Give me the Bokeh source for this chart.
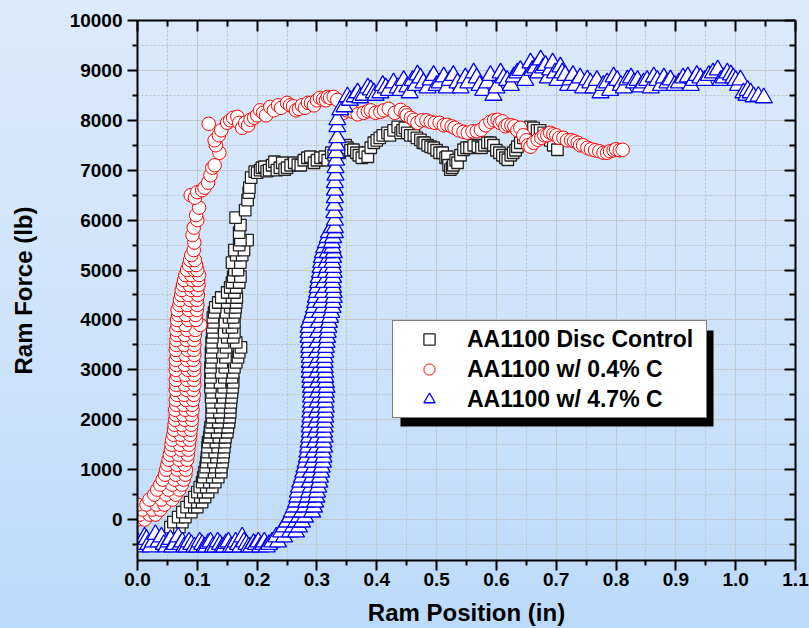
from bokeh.plotting import figure
from bokeh.models import (Range1d, FixedTicker, LinearAxis, Legend, LegendItem,
                          NumeralTickFormatter, BoxAnnotation, CustomLabelingPolicy)
from bokeh.embed import file_html
from bokeh.resources import INLINE

# ---------------- data ----------------
series_names = ["AA1100 Disc Control", "AA1100 w/ 0.4% C", "AA1100 w/ 4.7% C"]

# AA1100 Disc Control: (position in, force lb)
ctrl_pts = [
    (0.062, -200), (0.055, -150), (0.07, -150), (0.06, -50), (0.075, -50), (0.068, 50), (0.08, 50),
    (0.075, 150), (0.09, 150), (0.082, 250), (0.095, 250), (0.1, 250), (0.088, 350), (0.1, 350),
    (0.108, 350), (0.095, 450), (0.105, 450), (0.113, 450), (0.1, 550), (0.11, 550), (0.118, 550),
    (0.104, 650), (0.115, 650), (0.125, 650), (0.108, 750), (0.12, 750), (0.13, 750),
    (0.11, 850), (0.125, 850), (0.135, 850), (0.112, 950), (0.128, 950), (0.14, 950),
    (0.114, 1050), (0.13, 1050), (0.14, 1050), (0.115, 1150), (0.127, 1150), (0.142, 1150),
    (0.116, 1250), (0.132, 1250), (0.143, 1250), (0.117, 1350), (0.129, 1350), (0.144, 1350),
    (0.117, 1450), (0.134, 1450), (0.145, 1450), (0.118, 1550), (0.131, 1550), (0.146, 1550),
    (0.12, 1650), (0.136, 1650), (0.147, 1650), (0.121, 1750), (0.133, 1750), (0.15, 1750),
    (0.122, 1850), (0.138, 1850), (0.151, 1850), (0.124, 1950), (0.135, 1950), (0.153, 1950),
    (0.125, 2050), (0.14, 2050), (0.154, 2050), (0.124, 2150), (0.137, 2150), (0.155, 2150),
    (0.125, 2250), (0.142, 2250), (0.155, 2250), (0.124, 2350), (0.139, 2350), (0.156, 2350),
    (0.123, 2450), (0.143, 2450), (0.157, 2450), (0.124, 2550), (0.14, 2550), (0.158, 2550),
    (0.122, 2650), (0.144, 2650), (0.159, 2650), (0.123, 2750), (0.138, 2750), (0.16, 2750),
    (0.122, 2850), (0.145, 2850), (0.158, 2850), (0.123, 2950), (0.14, 2950), (0.16, 2950),
    (0.122, 3050), (0.146, 3050), (0.162, 3050), (0.123, 3150), (0.141, 3150), (0.165, 3150),
    (0.124, 3250), (0.147, 3250), (0.168, 3250), (0.123, 3350), (0.142, 3350), (0.17, 3350),
    (0.125, 3450), (0.148, 3450), (0.173, 3450), (0.124, 3550), (0.143, 3550), (0.165, 3550),
    (0.125, 3650), (0.15, 3650), (0.16, 3650), (0.126, 3750), (0.145, 3750), (0.162, 3750),
    (0.125, 3850), (0.152, 3850), (0.158, 3850), (0.127, 3950), (0.146, 3950), (0.162, 3950),
    (0.126, 4050), (0.153, 4050), (0.16, 4050), (0.128, 4150), (0.148, 4150), (0.163, 4150),
    (0.13, 4250), (0.155, 4250), (0.164, 4250), (0.135, 4350), (0.15, 4350), (0.165, 4350),
    (0.14, 4450), (0.158, 4450), (0.166, 4450), (0.15, 4550), (0.162, 4550), (0.155, 4650),
    (0.165, 4650), (0.158, 4750), (0.17, 4750), (0.16, 4870), (0.172, 4870), (0.162, 5000),
    (0.168, 5000), (0.158, 5150), (0.172, 5150), (0.165, 5300), (0.175, 5300), (0.162, 5400),
    (0.178, 5400), (0.17, 5500), (0.184, 5600), (0.172, 5600), (0.17, 5750), (0.172, 5900),
    (0.164, 6050), (0.18, 6200), (0.184, 6400), (0.186, 6550), (0.187, 6650), (0.19, 6850),
    (0.196, 6970), (0.2, 6950), (0.205, 7000), (0.208, 7050), (0.212, 7070), (0.216, 6980),
    (0.22, 7000), (0.225, 7100), (0.229, 7170), (0.233, 7000), (0.238, 7050), (0.242, 7150),
    (0.246, 7010), (0.25, 7050), (0.256, 7100), (0.262, 7150), (0.268, 7110), (0.273, 7100),
    (0.278, 7200), (0.284, 7250), (0.289, 7270), (0.295, 7150), (0.3, 7200), (0.306, 7250),
    (0.313, 7270), (0.318, 7200), (0.324, 7350), (0.328, 7300), (0.334, 7410), (0.338, 7350),
    (0.344, 7470), (0.348, 7500), (0.351, 7450), (0.356, 7400), (0.361, 7410), (0.366, 7350),
    (0.37, 7300), (0.375, 7250), (0.38, 7350), (0.385, 7270), (0.39, 7450), (0.395, 7550),
    (0.4, 7600), (0.405, 7650), (0.41, 7700), (0.418, 7750), (0.422, 7700), (0.428, 7800),
    (0.435, 7870), (0.44, 7750), (0.443, 7800), (0.447, 7850), (0.451, 7750), (0.456, 7700),
    (0.462, 7700), (0.467, 7650), (0.473, 7610), (0.477, 7550), (0.48, 7550), (0.485, 7500),
    (0.49, 7470), (0.495, 7450), (0.5, 7400), (0.505, 7350), (0.51, 7350), (0.515, 7250),
    (0.518, 7270), (0.52, 7100), (0.523, 7010), (0.526, 7050), (0.528, 7100), (0.532, 7200),
    (0.535, 7150), (0.54, 7300), (0.545, 7410), (0.55, 7450), (0.555, 7450), (0.562, 7500),
    (0.569, 7470), (0.575, 7450), (0.58, 7500), (0.585, 7550), (0.59, 7550), (0.595, 7500),
    (0.6, 7400), (0.605, 7350), (0.61, 7300), (0.615, 7250), (0.619, 7210), (0.624, 7300),
    (0.628, 7350), (0.632, 7400), (0.635, 7470), (0.64, 7550), (0.645, 7650), (0.65, 7750),
    (0.657, 7870), (0.662, 7850), (0.668, 7800), (0.673, 7800), (0.679, 7750), (0.685, 7700),
    (0.69, 7600), (0.695, 7500), (0.702, 7410),
]

# AA1100 w/ 0.4% C
c04_pts = [
    (0.0, 0), (0.012, 0), (0.004, 100), (0.02, 100), (0.03, 100), (0.008, 200), (0.025, 200),
    (0.038, 200), (0.0, 300), (0.015, 300), (0.032, 300), (0.045, 300), (0.02, 400), (0.04, 400),
    (0.058, 400), (0.028, 500), (0.048, 500), (0.064, 500), (0.033, 600), (0.052, 600),
    (0.07, 600), (0.038, 700), (0.058, 700), (0.074, 700), (0.042, 800), (0.062, 800),
    (0.077, 800), (0.046, 900), (0.064, 900), (0.08, 900), (0.048, 1000), (0.067, 1000),
    (0.081, 1000), (0.05, 1100), (0.066, 1100), (0.079, 1100), (0.052, 1200), (0.07, 1200),
    (0.083, 1200), (0.054, 1300), (0.068, 1300), (0.084, 1300), (0.056, 1400), (0.073, 1400),
    (0.085, 1400), (0.057, 1500), (0.071, 1500), (0.086, 1500), (0.058, 1600), (0.075, 1600),
    (0.087, 1600), (0.06, 1700), (0.072, 1700), (0.088, 1700), (0.061, 1800), (0.077, 1800),
    (0.089, 1800), (0.062, 1900), (0.074, 1900), (0.09, 1900), (0.063, 2000), (0.079, 2000),
    (0.091, 2000), (0.064, 2100), (0.076, 2100), (0.09, 2100), (0.063, 2200), (0.08, 2200),
    (0.092, 2200), (0.065, 2300), (0.077, 2300), (0.091, 2300), (0.064, 2400), (0.081, 2400),
    (0.093, 2400), (0.066, 2500), (0.078, 2500), (0.094, 2500), (0.064, 2600), (0.082, 2600),
    (0.093, 2600), (0.065, 2700), (0.079, 2700), (0.095, 2700), (0.064, 2800), (0.083, 2800),
    (0.094, 2800), (0.066, 2900), (0.08, 2900), (0.095, 2900), (0.064, 3000), (0.084, 3000),
    (0.094, 3000), (0.065, 3100), (0.079, 3100), (0.095, 3100), (0.064, 3200), (0.083, 3200),
    (0.093, 3200), (0.066, 3300), (0.08, 3300), (0.095, 3300), (0.064, 3400), (0.084, 3400),
    (0.094, 3400), (0.065, 3500), (0.078, 3500), (0.095, 3500), (0.065, 3600), (0.082, 3600),
    (0.094, 3600), (0.066, 3700), (0.079, 3700), (0.096, 3700), (0.065, 3800), (0.083, 3800),
    (0.097, 3800), (0.067, 3900), (0.08, 3900), (0.105, 3900), (0.066, 4000), (0.085, 4000),
    (0.098, 4000), (0.068, 4100), (0.081, 4100), (0.097, 4100), (0.067, 4200), (0.086, 4200),
    (0.099, 4200), (0.07, 4300), (0.083, 4300), (0.1, 4300), (0.071, 4400), (0.088, 4400),
    (0.099, 4400), (0.073, 4500), (0.085, 4500), (0.101, 4500), (0.074, 4600), (0.09, 4600),
    (0.1, 4600), (0.076, 4700), (0.087, 4700), (0.102, 4700), (0.078, 4800), (0.092, 4800),
    (0.101, 4800), (0.08, 4900), (0.09, 4900), (0.103, 4900), (0.083, 5000), (0.095, 5000),
    (0.1, 5000), (0.086, 5100), (0.098, 5100), (0.088, 5200), (0.096, 5200), (0.09, 5300),
    (0.094, 5400), (0.095, 5550), (0.092, 5700), (0.094, 5850), (0.1, 6000), (0.098, 6100),
    (0.103, 6250), (0.089, 6500), (0.096, 6450), (0.1, 6560), (0.108, 6600), (0.112, 6650),
    (0.118, 6750), (0.122, 6900), (0.125, 7050), (0.129, 7100), (0.137, 7350), (0.131, 7500),
    (0.129, 7600), (0.136, 7700), (0.14, 7800), (0.119, 7930), (0.15, 7950), (0.155, 8000),
    (0.16, 8050), (0.167, 8070), (0.17, 7950), (0.175, 7850), (0.18, 7950), (0.185, 7900),
    (0.189, 8010), (0.195, 8050), (0.2, 8100), (0.205, 8200), (0.21, 8150), (0.215, 8100),
    (0.222, 8270), (0.228, 8200), (0.235, 8300), (0.24, 8250), (0.25, 8350), (0.255, 8300),
    (0.26, 8280), (0.265, 8200), (0.27, 8230), (0.275, 8300), (0.28, 8250), (0.285, 8350),
    (0.29, 8350), (0.295, 8300), (0.3, 8400), (0.305, 8450), (0.31, 8420), (0.315, 8400),
    (0.318, 8470), (0.322, 8450), (0.328, 8470), (0.334, 8410), (0.344, 8150), (0.35, 8200),
    (0.36, 8170), (0.368, 8120), (0.378, 8150), (0.385, 8180), (0.39, 8200), (0.398, 8150),
    (0.406, 8170), (0.412, 8200), (0.42, 8230), (0.43, 8150), (0.44, 8210), (0.448, 8150),
    (0.45, 8100), (0.457, 8050), (0.462, 8010), (0.468, 7950), (0.475, 8000), (0.483, 8000),
    (0.49, 7970), (0.497, 7950), (0.505, 7950), (0.512, 7900), (0.518, 7910), (0.525, 7880),
    (0.53, 7850), (0.537, 7800), (0.545, 7770), (0.552, 7750), (0.56, 7780), (0.567, 7780),
    (0.574, 7810), (0.582, 7900), (0.59, 7970), (0.596, 8000), (0.602, 8010), (0.606, 7950),
    (0.61, 7980), (0.615, 7880), (0.619, 7910), (0.625, 7900), (0.63, 7880), (0.635, 7800),
    (0.64, 7850), (0.645, 7700), (0.65, 7600), (0.653, 7500), (0.657, 7470), (0.662, 7550),
    (0.669, 7610), (0.675, 7650), (0.68, 7700), (0.685, 7700), (0.69, 7750), (0.695, 7720),
    (0.7, 7700), (0.705, 7650), (0.712, 7650), (0.718, 7600), (0.725, 7600), (0.73, 7580),
    (0.736, 7550), (0.74, 7500), (0.745, 7500), (0.752, 7450), (0.758, 7420), (0.765, 7400),
    (0.772, 7380), (0.779, 7350), (0.785, 7350), (0.79, 7380), (0.796, 7400), (0.8, 7420),
    (0.806, 7400), (0.811, 7410),
]

# AA1100 w/ 4.7% C
c47_pts = [
    (0.0, -450), (0.005, -550), (0.008, -500), (0.012, -350), (0.015, -400), (0.018, -500),
    (0.022, -550), (0.026, -450), (0.03, -300), (0.035, -450), (0.04, -350), (0.044, -500),
    (0.048, -550), (0.052, -450), (0.055, -400), (0.058, -550), (0.062, -500), (0.068, -350),
    (0.072, -500), (0.075, -450), (0.078, -550), (0.082, -550), (0.086, -450), (0.09, -500),
    (0.095, -550), (0.1, -550), (0.104, -450), (0.108, -500), (0.112, -550), (0.115, -550),
    (0.118, -480), (0.122, -450), (0.126, -550), (0.13, -550), (0.134, -450), (0.138, -500),
    (0.142, -550), (0.145, -550), (0.148, -480), (0.152, -450), (0.156, -550), (0.16, -550),
    (0.164, -450), (0.168, -500), (0.172, -550), (0.175, -350), (0.178, -450), (0.182, -500),
    (0.186, -550), (0.19, -550), (0.194, -480), (0.198, -500), (0.202, -450), (0.205, -550),
    (0.21, -500), (0.212, -450), (0.216, -550), (0.22, -500), (0.225, -450), (0.235, -450),
    (0.232, -350), (0.245, -350), (0.24, -250), (0.255, -250), (0.265, -250), (0.245, -150),
    (0.26, -150), (0.27, -150), (0.25, -50), (0.265, -50), (0.275, -50), (0.255, 50), (0.27, 50),
    (0.28, 50), (0.258, 150), (0.275, 150), (0.292, 150), (0.262, 250), (0.28, 250),
    (0.295, 250), (0.265, 350), (0.282, 350), (0.297, 350), (0.267, 450), (0.285, 450),
    (0.299, 450), (0.268, 550), (0.287, 550), (0.3, 550), (0.27, 650), (0.29, 650),
    (0.302, 650), (0.272, 750), (0.288, 750), (0.304, 750), (0.275, 850), (0.292, 850),
    (0.305, 850), (0.277, 950), (0.29, 950), (0.307, 950), (0.279, 1050), (0.295, 1050),
    (0.308, 1050), (0.281, 1150), (0.293, 1150), (0.31, 1150), (0.283, 1250), (0.297, 1250),
    (0.311, 1250), (0.284, 1350), (0.295, 1350), (0.31, 1350), (0.285, 1450), (0.3, 1450),
    (0.312, 1450), (0.286, 1550), (0.297, 1550), (0.311, 1550), (0.287, 1650), (0.301, 1650),
    (0.313, 1650), (0.288, 1750), (0.298, 1750), (0.312, 1750), (0.288, 1850), (0.302, 1850),
    (0.313, 1850), (0.288, 1950), (0.299, 1950), (0.313, 1950), (0.289, 2050), (0.303, 2050),
    (0.314, 2050), (0.289, 2150), (0.3, 2150), (0.314, 2150), (0.29, 2250), (0.304, 2250),
    (0.315, 2250), (0.29, 2350), (0.301, 2350), (0.314, 2350), (0.29, 2450), (0.305, 2450),
    (0.315, 2450), (0.29, 2550), (0.302, 2550), (0.315, 2550), (0.29, 2650), (0.306, 2650),
    (0.316, 2650), (0.289, 2750), (0.302, 2750), (0.315, 2750), (0.289, 2850), (0.306, 2850),
    (0.314, 2850), (0.288, 2950), (0.301, 2950), (0.314, 2950), (0.288, 3050), (0.305, 3050),
    (0.313, 3050), (0.288, 3150), (0.3, 3150), (0.313, 3150), (0.288, 3250), (0.304, 3250),
    (0.313, 3250), (0.287, 3350), (0.3, 3350), (0.314, 3350), (0.287, 3450), (0.305, 3450),
    (0.315, 3450), (0.287, 3550), (0.301, 3550), (0.316, 3550), (0.286, 3650), (0.306, 3650),
    (0.317, 3650), (0.286, 3750), (0.302, 3750), (0.318, 3750), (0.286, 3850), (0.307, 3850),
    (0.319, 3850), (0.287, 3950), (0.303, 3950), (0.32, 3950), (0.29, 4050), (0.308, 4050),
    (0.322, 4050), (0.293, 4150), (0.305, 4150), (0.324, 4150), (0.295, 4250), (0.31, 4250),
    (0.326, 4250), (0.297, 4350), (0.307, 4350), (0.327, 4350), (0.298, 4450), (0.312, 4450),
    (0.328, 4450), (0.3, 4550), (0.31, 4550), (0.328, 4550), (0.301, 4650), (0.315, 4650),
    (0.327, 4650), (0.302, 4750), (0.312, 4750), (0.326, 4750), (0.303, 4850), (0.317, 4850),
    (0.327, 4850), (0.305, 4950), (0.315, 4950), (0.328, 4950), (0.306, 5050), (0.318, 5050),
    (0.327, 5050), (0.307, 5150), (0.316, 5150), (0.326, 5150), (0.308, 5250), (0.32, 5250),
    (0.327, 5250), (0.31, 5350), (0.318, 5350), (0.328, 5350), (0.312, 5450), (0.322, 5450),
    (0.326, 5450), (0.315, 5550), (0.325, 5550), (0.318, 5650), (0.327, 5650), (0.32, 5750),
    (0.33, 5750), (0.325, 5850), (0.33, 5850), (0.33, 6000), (0.329, 6150), (0.329, 6300),
    (0.33, 6450), (0.33, 6600), (0.33, 6750), (0.331, 6900), (0.331, 7050), (0.332, 7200),
    (0.332, 7350), (0.333, 7500), (0.334, 7650), (0.334, 7870), (0.334, 8010), (0.339, 8210),
    (0.346, 8270), (0.351, 8470), (0.355, 8400), (0.363, 8470), (0.368, 8550), (0.372, 8450),
    (0.378, 8500), (0.385, 8650), (0.39, 8610), (0.395, 8550), (0.398, 8500), (0.406, 8550),
    (0.41, 8700), (0.415, 8650), (0.42, 8600), (0.428, 8750), (0.435, 8650), (0.44, 8600),
    (0.445, 8800), (0.451, 8670), (0.455, 8550), (0.46, 8800), (0.465, 8700), (0.468, 8910),
    (0.473, 8850), (0.478, 8750), (0.485, 8650), (0.49, 8810), (0.495, 8900), (0.5, 8700),
    (0.505, 8750), (0.512, 8870), (0.517, 8650), (0.522, 8800), (0.528, 8900), (0.535, 8750),
    (0.54, 8650), (0.548, 8850), (0.553, 8750), (0.562, 8950), (0.567, 8850), (0.572, 8700),
    (0.578, 8600), (0.585, 8750), (0.59, 8900), (0.595, 8500), (0.6, 8650), (0.607, 8950),
    (0.612, 8850), (0.618, 8800), (0.624, 8700), (0.629, 8870), (0.635, 8950), (0.64, 9000),
    (0.648, 8800), (0.657, 9150), (0.66, 9000), (0.665, 9050), (0.67, 8950), (0.674, 9210),
    (0.678, 9050), (0.682, 9100), (0.686, 8850), (0.69, 9010), (0.694, 9150), (0.698, 8950),
    (0.702, 8800), (0.707, 9070), (0.71, 8950), (0.715, 8900), (0.72, 8700), (0.724, 8810),
    (0.728, 8900), (0.732, 8700), (0.74, 8850), (0.745, 8650), (0.752, 8810), (0.757, 8750),
    (0.762, 8650), (0.768, 8800), (0.774, 8550), (0.779, 8700), (0.785, 8750), (0.79, 8600),
    (0.796, 8870), (0.802, 8800), (0.808, 8700), (0.813, 8650), (0.819, 8810), (0.825, 8850),
    (0.83, 8750), (0.836, 8800), (0.841, 8670), (0.846, 8750), (0.852, 8800), (0.858, 8650),
    (0.863, 8870), (0.869, 8800), (0.875, 8700), (0.88, 8850), (0.886, 8750), (0.891, 8810),
    (0.898, 8700), (0.905, 8750), (0.912, 8850), (0.92, 8870), (0.925, 8700), (0.93, 8800),
    (0.935, 8900), (0.941, 8850), (0.948, 8800), (0.955, 8900), (0.962, 8950), (0.97, 9010),
    (0.975, 8800), (0.98, 8850), (0.986, 8950), (0.992, 8910), (0.996, 8850), (1.0, 8800),
    (1.004, 8700), (1.008, 8810), (1.013, 8550), (1.018, 8500), (1.02, 8600), (1.025, 8550),
    (1.03, 8470), (1.038, 8480), (1.047, 8450),
]

ctrl_x = [p[0] for p in ctrl_pts]
ctrl_y = [p[1] for p in ctrl_pts]
c04_x = [p[0] for p in c04_pts]
c04_y = [p[1] for p in c04_pts]
c47_x = [p[0] for p in c47_pts]
c47_y = [p[1] for p in c47_pts]

x_ticks = [0.0, 0.1, 0.2, 0.3, 0.4, 0.5, 0.6, 0.7, 0.8, 0.9, 1.0, 1.1]
x_minor = [0.05, 0.15, 0.25, 0.35, 0.45, 0.55, 0.65, 0.75, 0.85, 0.95, 1.05]
y_ticks = [0, 1000, 2000, 3000, 4000, 5000, 6000, 7000, 8000, 9000, 10000]
y_minor = [-500, 500, 1500, 2500, 3500, 4500, 5500, 6500, 7500, 8500, 9500]

FONT = "Liberation Sans"

p = figure(width=809, height=628, output_backend="svg", toolbar_location=None,
           x_range=Range1d(0, 1.1), y_range=Range1d(-820, 10000),
           min_border_left=137, min_border_right=14, min_border_top=20,
           min_border_bottom=66, x_axis_location=None, y_axis_location=None)
p.border_fill_color = None
p.background_fill_color = None
p.outline_line_color = None
p.styles = {"background": "linear-gradient(to bottom, #dbeafc 0%, #cfe4fb 50%, #bcdaf9 100%)"}

xticker = FixedTicker(ticks=x_ticks, minor_ticks=x_minor)
yticker = FixedTicker(ticks=y_ticks, minor_ticks=y_minor)

hide_labels = CustomLabelingPolicy(
    code="for (let i = 0; i < indices.size; i++) { indices.unset(i) } return indices")


def style_axis(ax, outward):
    ax.axis_line_width = 2
    ax.axis_line_color = "black"
    ax.major_tick_line_width = 2
    ax.minor_tick_line_width = 2
    ax.major_tick_line_color = "black"
    ax.minor_tick_line_color = "black"
    if outward:
        ax.major_tick_out, ax.major_tick_in = 10, 0
        ax.minor_tick_out, ax.minor_tick_in = 5, 0
        ax.major_label_text_font_size = "19px"
    else:
        ax.major_tick_out, ax.major_tick_in = 0, 11
        ax.minor_tick_out, ax.minor_tick_in = 0, 6
        ax.major_label_text_font_size = "1px"
        ax.major_label_standoff = 0
    ax.major_label_text_font = FONT
    ax.major_label_text_font_style = "bold"
    ax.major_label_text_color = "black"
    ax.axis_label_text_font = FONT
    ax.axis_label_text_font_style = "bold"
    ax.axis_label_text_font_size = "24px"
    ax.axis_label_text_color = "black"


xb = LinearAxis(ticker=xticker, formatter=NumeralTickFormatter(format="0.0"),
                axis_label="Ram Position (in)")
style_axis(xb, True)
xb.major_label_standoff = 2
xb.axis_label_standoff = 10
yl = LinearAxis(ticker=yticker, axis_label="Ram Force (lb)")
style_axis(yl, True)
yl.major_label_standoff = 5
yl.axis_label_standoff = 30
xt = LinearAxis(ticker=xticker, major_label_policy=hide_labels)
style_axis(xt, False)
yr = LinearAxis(ticker=yticker, major_label_policy=hide_labels)
style_axis(yr, False)

p.add_layout(xb, "below")
p.add_layout(yl, "left")
p.add_layout(xt, "above")
p.add_layout(yr, "right")

p.xgrid.ticker = xticker
p.ygrid.ticker = yticker
for g in (p.xgrid, p.ygrid):
    g.grid_line_color = "#c4c9cf"
    g.grid_line_width = 1
    g.minor_grid_line_color = "#b9c0c8"
    g.minor_grid_line_dash = "2 2"
    g.minor_grid_line_width = 1

r_ctrl = p.scatter(ctrl_x, ctrl_y, marker="square", size=11.5, fill_color="white",
                   line_color="#222222", line_width=1.3)
r_c04 = p.scatter(c04_x, c04_y, marker="circle", size=13.5, fill_color="white",
                  line_color="#ff0000", line_width=1)
r_c47 = p.scatter(c47_x, c47_y, marker="triangle", size=17, fill_color="white",
                  line_color="#0000ff", line_width=1.3)

# legend drop shadow (frame-relative screen units), then the legend itself
shadow = BoxAnnotation(left=263, right=576, bottom=134, top=230,
                       left_units="screen", right_units="screen",
                       bottom_units="screen", top_units="screen",
                       fill_color="black", fill_alpha=1.0, line_color=None)
p.add_layout(shadow)

legend = Legend(items=[LegendItem(label=series_names[0], renderers=[r_ctrl]),
                       LegendItem(label=series_names[1], renderers=[r_c04]),
                       LegendItem(label=series_names[2], renderers=[r_c47])],
                location=(255, 142), margin=0, padding=4, spacing=2,
                glyph_width=64, glyph_height=28, label_height=28, label_width=235,
                label_standoff=6,
                label_text_font=FONT, label_text_font_style="bold",
                label_text_font_size="23px", label_text_color="black",
                border_line_color="black", border_line_width=1,
                background_fill_color="white", background_fill_alpha=1.0)
p.add_layout(legend, "center")

open("out.html", "w").write(file_html(p, INLINE))
